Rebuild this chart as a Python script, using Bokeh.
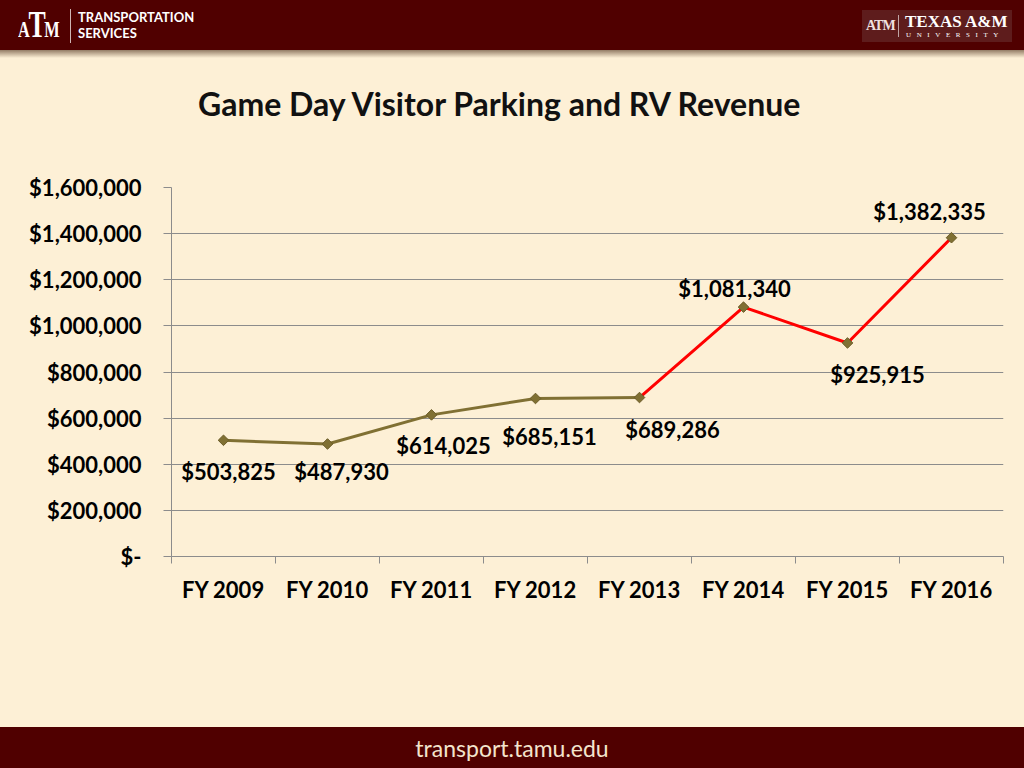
from bokeh.plotting import figure
from bokeh.models import Range1d, FixedTicker, LabelSet, ColumnDataSource, Div
from bokeh.layouts import column
from bokeh.core.properties import value
from bokeh.embed import file_html
from bokeh.resources import INLINE

# ---- data ----
years = ["FY 2009", "FY 2010", "FY 2011", "FY 2012", "FY 2013", "FY 2014", "FY 2015", "FY 2016"]
revenue = [503825, 487930, 614025, 685151, 689286, 1081340, 925915, 1382335]
y_ticks = [0, 200000, 400000, 600000, 800000, 1000000, 1200000, 1400000, 1600000]
y_tick_labels = ["$-", "$200,000", "$400,000", "$600,000", "$800,000",
                 "$1,000,000", "$1,200,000", "$1,400,000", "$1,600,000"]
title_text = "Game Day Visitor Parking and RV Revenue"
footer_text = "transport.tamu.edu"
red_from = 4  # index (FY 2013) from which the line is drawn in red

# ---- label placement (pixel offsets, positive = up) ----
label_dx = [5, 14, 12, 14, 33, -9, 30, -22]
label_dy = [-31, -28, -31, -38, -32, 19, -32, 26]

# ---- styles ----
CREAM = "#FDF0D6"
MAROON = "#500000"
OLIVE = "#807033"
RED = "#FF0000"
GRID = "#8C8C8C"
FONT = "Lato"
W = 1024

xs = [i + 0.5 for i in range(len(years))]
bounds = list(range(len(years) + 1))
labels = ["${:,}".format(v) for v in revenue]

header_html = f"""
<div style="position:relative;width:{W}px;height:150px;background:{CREAM};overflow:hidden;font-family:Lato;">
  <div style="position:absolute;left:0px;top:50px;width:{W}px;height:8px;background:linear-gradient(to bottom, rgba(60,30,10,0.55), rgba(60,30,10,0));"></div>
  <div style="position:absolute;left:0px;top:0px;width:{W}px;height:50px;background:{MAROON};">
    <div style="position:absolute;left:18px;top:4px;height:40px;color:#ffffff;font-family:'Liberation Serif';font-weight:bold;line-height:40px;white-space:nowrap;letter-spacing:-2px;transform:scaleX(0.68);transform-origin:left top;">
      <span style="font-size:24px">A</span><span style="font-size:38px">T</span><span style="font-size:24px">M</span>
    </div>
    <div style="position:absolute;left:70px;top:9px;width:1px;height:34px;background:#cfb5b5;"></div>
    <div style="position:absolute;left:78px;top:10px;height:15px;color:#ffffff;font-weight:bold;font-size:13px;line-height:15px;white-space:nowrap;">TRANSPORTATION</div>
    <div style="position:absolute;left:78px;top:26px;height:15px;color:#ffffff;font-weight:bold;font-size:13px;line-height:15px;white-space:nowrap;">SERVICES</div>
    <div style="position:absolute;left:862px;top:10px;width:150px;height:32px;background:#5e1c1c;">
      <div style="position:absolute;left:4px;top:4px;color:#f0e0e0;font-family:'Liberation Serif';font-weight:bold;font-size:14px;line-height:24px;white-space:nowrap;letter-spacing:-1px;">ATM</div>
      <div style="position:absolute;left:36px;top:5px;width:1px;height:22px;background:#bfa5a5;"></div>
      <div style="position:absolute;left:43px;top:4px;color:#ffffff;font-family:'Liberation Serif';font-weight:bold;font-size:17px;line-height:16px;white-space:nowrap;">TEXAS A&amp;M</div>
      <div style="position:absolute;left:44px;top:21px;color:#ffffff;font-family:'Liberation Serif';font-size:7px;line-height:8px;letter-spacing:5.6px;white-space:nowrap;">UNIVERSITY</div>
    </div>
  </div>
  <div style="position:absolute;left:198px;top:86px;width:600px;text-align:center;font-family:Lato;font-weight:bold;font-size:32px;line-height:36px;color:#111111;white-space:nowrap;">{title_text}</div>
</div>
"""

footer_html = f"""
<div style="position:relative;width:{W}px;height:41px;background:{MAROON};overflow:hidden;">
  <div style="position:absolute;left:0px;top:7px;width:{W}px;text-align:center;font-family:Lato;font-size:23px;line-height:28px;color:#F3E4CD;">{footer_text}</div>
</div>
"""

header = Div(text=header_html, width=W, height=150, margin=0)
footer = Div(text=footer_html, width=W, height=41, margin=0)

p = figure(width=W, height=577,
           x_range=Range1d(0, len(years)), y_range=Range1d(y_ticks[0], y_ticks[-1]),
           output_backend="svg", toolbar_location=None,
           min_border_left=171, min_border_right=21, min_border_top=37, min_border_bottom=171,
           background_fill_color=CREAM, border_fill_color=CREAM, outline_line_color=None)

# grid
p.xgrid.grid_line_color = None
p.ygrid.grid_line_color = GRID
p.ygrid.grid_line_width = 1

# y axis
p.yaxis.ticker = FixedTicker(ticks=y_ticks)
p.yaxis.major_label_overrides = {int(v): s for v, s in zip(y_ticks, y_tick_labels)}
p.yaxis.axis_line_color = GRID
p.yaxis.major_tick_line_color = GRID
p.yaxis.major_tick_out = 8
p.yaxis.major_tick_in = 0
p.yaxis.minor_tick_line_color = None
p.yaxis.major_label_standoff = 22
p.yaxis.major_label_text_font = FONT
p.yaxis.major_label_text_font_style = "bold"
p.yaxis.major_label_text_font_size = "22px"
p.yaxis.major_label_text_color = "#000000"

# x axis
p.xaxis.ticker = FixedTicker(ticks=xs, minor_ticks=bounds)
p.xaxis.major_label_overrides = {x: s for x, s in zip(xs, years)}
p.xaxis.axis_line_color = GRID
p.xaxis.major_tick_line_color = None
p.xaxis.minor_tick_line_color = GRID
p.xaxis.minor_tick_out = 7
p.xaxis.minor_tick_in = 0
p.xaxis.major_label_standoff = 12
p.xaxis.major_label_text_font = FONT
p.xaxis.major_label_text_font_style = "bold"
p.xaxis.major_label_text_font_size = "22px"
p.xaxis.major_label_text_color = "#000000"

# lines
p.line(xs[:red_from + 1], revenue[:red_from + 1], line_color=OLIVE, line_width=3)
p.line(xs[red_from:], revenue[red_from:], line_color=RED, line_width=3)
p.scatter(xs, revenue, marker="square", angle=0.785398, size=7.5,
          fill_color=OLIVE, line_color="#6B5C28", line_width=1)

src = ColumnDataSource(dict(x=xs, y=revenue, text=labels, dx=label_dx, dy=label_dy))
p.add_layout(LabelSet(x="x", y="y", text="text", x_offset="dx", y_offset="dy", source=src,
                      text_align="center", text_baseline="middle",
                      text_font=value(FONT), text_font_style="bold",
                      text_font_size="22px", text_color="#000000"))

layout = column(header, p, footer, spacing=0, styles={"background-color": CREAM})

open("out.html", "w").write(file_html(layout, INLINE))
